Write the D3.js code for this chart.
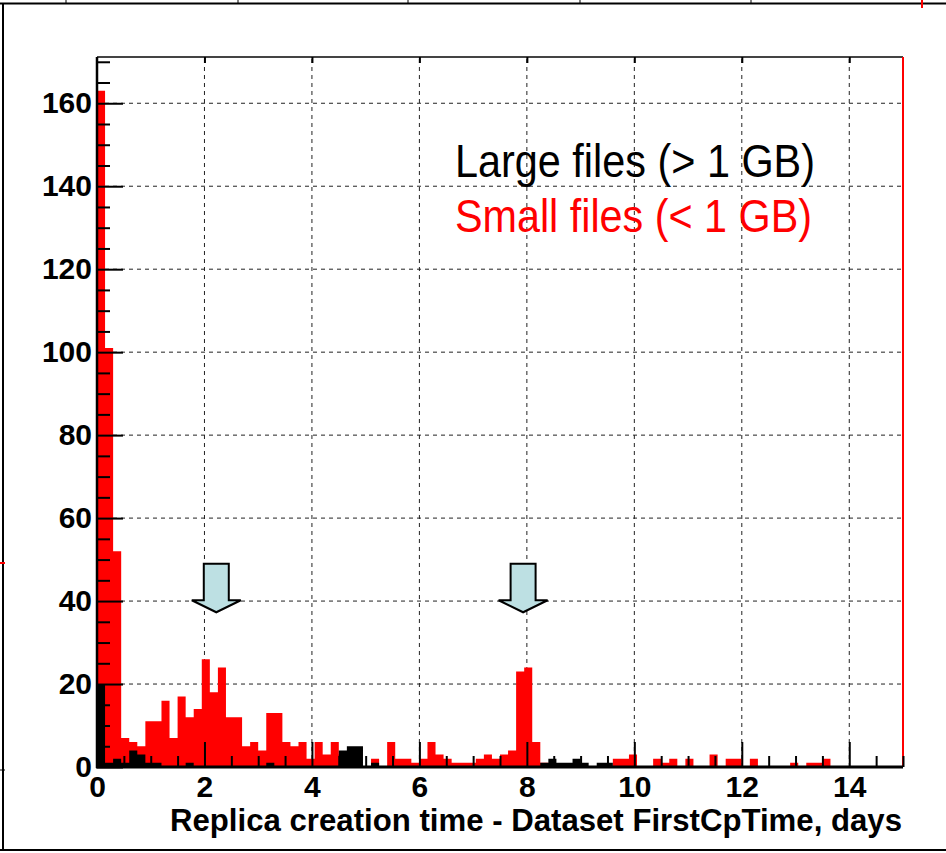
<!DOCTYPE html>
<meta charset="utf-8">
<head>
    <title>Replica creation time</title>
    <script src="https://d3js.org/d3.v7.min.js"></script>
</head>

<style>
    body {
        margin: 0;
        background: #fff;
    }

    text {
        font-family: "Liberation Sans", Arial, Helvetica, sans-serif;
    }

    .tick text {
        font-weight: bold;
        font-size: 30px;
        fill: #000;
    }

    .tick line {
        stroke: #000;
        stroke-width: 2px;
    }

    .grid line {
        stroke: #222;
        stroke-width: 1px;
        stroke-dasharray: 4, 4;
    }
</style>

<body>
    <script>
        // histogram: 100 bins of 0.15 day from 0 to 15
        var binWidth = 0.15;

        var smallFiles = [
            163, 101, 52, 7, 6, 5, 11, 11, 16, 7,
            17, 12, 14, 26, 18, 24, 12, 12, 5, 6,
            4, 13, 13, 6, 5, 6, 2, 6, 3, 6,
            3, 0, 0, 0, 2, 0, 6, 2, 2, 1,
            2, 6, 3, 2, 1, 1, 1, 2, 3, 2,
            3, 4, 23, 24, 6, 1, 0, 0, 0, 0,
            0, 0, 0, 0, 2, 2, 3, 0, 0, 2,
            1, 2, 0, 2, 0, 0, 3, 0, 2, 2,
            0, 2, 0, 0, 0, 0, 1, 0, 1, 1,
            2, 0, 0, 0, 0, 0, 0, 0, 0, 0
        ];

        var largeFiles = [
            20, 1, 2, 1, 4, 3, 1, 1, 0, 0,
            0, 1, 0, 0, 0, 0, 0, 0, 0, 0,
            0, 1, 0, 0, 0, 0, 0, 0, 0, 0,
            4, 5, 5, 0, 1, 0, 0, 0, 0, 0,
            0, 0, 0, 0, 0, 0, 0, 0, 0, 0,
            0, 0, 0, 0, 0, 1, 2, 1, 1, 2,
            1, 0, 1, 1, 0, 0, 0, 0, 0, 0,
            0, 0, 0, 0, 0, 0, 0, 0, 0, 0,
            0, 0, 0, 0, 0, 0, 0, 0, 0, 0,
            0, 0, 0, 0, 0, 0, 0, 0, 0, 0
        ];

        var xTicks = [0, 2, 4, 6, 8, 10, 12, 14];
        var yTicks = [0, 20, 40, 60, 80, 100, 120, 140, 160];
        var xMinor = d3.range(0, 15.01, 0.5).filter(function (d) { return d % 2 != 0; });
        var yMinor = d3.range(0, 171, 5).filter(function (d) { return d % 20 != 0; });

        // arrows pointing at the two bumps (days, top / tip value)
        var arrowDays = [2.22, 7.93];
        var arrowTop = 49;
        var arrowTip = 37.3;

        var legendLabels = ["Large files (> 1 GB)", "Small files (< 1 GB)"];
        var legendColors = ["#000", "#ff0000"];

        var xTitle = "Replica creation time - Dataset FirstCpTime, days";

        var width = 946, height = 853;
        var margin = { left: 97, right: 40, top: 57, bottom: 86 };

        var svg = d3.select("body").append("svg")
            .attr("width", width)
            .attr("height", height);

        // outer pad frame + bits of neighbouring pads
        svg.append("rect").attr("x", 0).attr("y", 0).attr("width", width).attr("height", height).attr("fill", "#fff");
        svg.append("line").attr("x1", 0).attr("x2", width).attr("y1", 3.5).attr("y2", 3.5).attr("stroke", "#000").attr("stroke-width", 2);
        svg.append("line").attr("x1", 3).attr("x2", 3).attr("y1", 3).attr("y2", 850).attr("stroke", "#000").attr("stroke-width", 2);
        svg.append("line").attr("x1", 0).attr("x2", width).attr("y1", 850).attr("y2", 850).attr("stroke", "#000").attr("stroke-width", 2);
        [66, 238, 408, 580, 751].forEach(function (px) {
            svg.append("line").attr("x1", px).attr("x2", px).attr("y1", 0).attr("y2", 3).attr("stroke", "#000").attr("stroke-width", 1);
        });
        svg.append("line").attr("x1", 922).attr("x2", 922).attr("y1", 0).attr("y2", 8).attr("stroke", "red").attr("stroke-width", 2);
        svg.append("line").attr("x1", 0).attr("x2", 5).attr("y1", 563).attr("y2", 563).attr("stroke", "red").attr("stroke-width", 2);
        svg.append("line").attr("x1", 0).attr("x2", 5).attr("y1", 770).attr("y2", 770).attr("stroke", "#000").attr("stroke-width", 1);

        var x = d3.scaleLinear().domain([0, 15]).range([margin.left, width - margin.right - 3]);
        var y = d3.scaleLinear().domain([0, 163 * 1.05]).range([height - margin.bottom - 0, margin.top]);
        y.range([767, 57]);

        // grid
        var grid = svg.append("g").attr("class", "grid");
        grid.selectAll("line.gx").data(xTicks.slice(1)).enter().append("line")
            .attr("x1", function (d) { return x(d); })
            .attr("x2", function (d) { return x(d); })
            .attr("y1", y.range()[0])
            .attr("y2", y.range()[1]);
        grid.selectAll("line.gy").data(yTicks.slice(1)).enter().append("line")
            .attr("x1", x.range()[0])
            .attr("x2", x.range()[1])
            .attr("y1", function (d) { return y(d); })
            .attr("y2", function (d) { return y(d); });

        // histograms, small files first then large files on top
        function stepPoints(values) {
            return d3.range(values.length + 1).map(function (i) {
                return [i * binWidth, values[Math.min(i, values.length - 1)]];
            });
        }

        var area = d3.area()
            .curve(d3.curveStepAfter)
            .x(function (d) { return x(d[0]); })
            .y0(y(0))
            .y1(function (d) { return y(d[1]); });

        svg.append("path")
            .datum(stepPoints(smallFiles))
            .attr("d", area)
            .attr("fill", legendColors[1]);

        svg.append("path")
            .datum(stepPoints(largeFiles))
            .attr("d", area)
            .attr("fill", legendColors[0]);

        // frame
        svg.append("line")
            .attr("x1", x.range()[0]).attr("x2", x.range()[1])
            .attr("y1", y.range()[1]).attr("y2", y.range()[1])
            .attr("stroke", "#444").attr("stroke-width", 2);
        svg.append("line")
            .attr("x1", x.range()[1]).attr("x2", x.range()[1])
            .attr("y1", y.range()[1]).attr("y2", y.range()[0])
            .attr("stroke", "red").attr("stroke-width", 2);

        // axes
        var xAxis = svg.append("g")
            .attr("transform", "translate(0," + y(0) + ")")
            .call(d3.axisBottom(x).tickValues(xTicks).tickFormat(d3.format("d"))
                .tickSizeInner(-25).tickSizeOuter(0).tickPadding(9));
        xAxis.select(".domain").remove();

        var xAxisMinor = svg.append("g")
            .attr("transform", "translate(0," + y(0) + ")")
            .call(d3.axisBottom(x).tickValues(xMinor).tickFormat("").tickSizeInner(-11).tickSizeOuter(0));
        xAxisMinor.select(".domain").remove();

        var xAxisTop = svg.append("g")
            .attr("transform", "translate(0," + y.range()[1] + ")")
            .call(d3.axisTop(x).tickValues(xTicks.slice(1)).tickFormat("").tickSizeInner(-6).tickSizeOuter(0));
        xAxisTop.select(".domain").remove();
        xAxisTop.selectAll(".tick line").attr("stroke-width", 1);

        var yAxis = svg.append("g")
            .attr("transform", "translate(" + x(0) + ",0)")
            .call(d3.axisLeft(y).tickValues(yTicks).tickFormat(d3.format("d"))
                .tickSizeInner(-26).tickSizeOuter(0).tickPadding(5));
        yAxis.select(".domain").remove();

        var yAxisMinor = svg.append("g")
            .attr("transform", "translate(" + x(0) + ",0)")
            .call(d3.axisLeft(y).tickValues(yMinor).tickFormat("").tickSizeInner(-13).tickSizeOuter(0));
        yAxisMinor.select(".domain").remove();

        svg.append("line")
            .attr("x1", x(0)).attr("x2", x(0))
            .attr("y1", y.range()[1]).attr("y2", y(0) + 1)
            .attr("stroke", "#000").attr("stroke-width", 2.5);
        svg.append("line")
            .attr("x1", x(0) - 1).attr("x2", x.range()[1])
            .attr("y1", y(0)).attr("y2", y(0))
            .attr("stroke", "#000").attr("stroke-width", 3);

        // axis title
        svg.append("text")
            .attr("x", x.range()[1] - 1)
            .attr("y", 831)
            .attr("text-anchor", "end")
            .attr("textLength", 732)
            .attr("lengthAdjust", "spacingAndGlyphs")
            .style("font-weight", "bold")
            .style("font-size", "31px")
            .text(xTitle);

        // legend
        svg.selectAll("text.legend")
            .data(legendLabels)
            .enter().append("text")
            .attr("class", "legend")
            .attr("x", 455)
            .attr("y", function (d, i) { return 177 + i * 55; })
            .attr("textLength", function (d, i) { return i == 0 ? 360 : 357; })
            .attr("lengthAdjust", "spacingAndGlyphs")
            .attr("fill", function (d, i) { return legendColors[i]; })
            .style("font-size", "46px")
            .text(function (d) { return d; });

        // arrows
        var shaftHalf = 12.5, headHalf = 24.5, headLen = 12;
        svg.selectAll("path.arrow")
            .data(arrowDays)
            .enter().append("path")
            .attr("class", "arrow")
            .attr("d", function (d) {
                var cx = x(d), top = y(arrowTop), tip = y(arrowTip), base = tip - headLen;
                return "M" + (cx - shaftHalf) + "," + top +
                    "L" + (cx + shaftHalf) + "," + top +
                    "L" + (cx + shaftHalf) + "," + base +
                    "L" + (cx + headHalf) + "," + base +
                    "L" + cx + "," + tip +
                    "L" + (cx - headHalf) + "," + base +
                    "L" + (cx - shaftHalf) + "," + base + "Z";
            })
            .attr("fill", "#bde0e3")
            .attr("stroke", "#000")
            .attr("stroke-width", 2);
    </script>
</body>
</html>
